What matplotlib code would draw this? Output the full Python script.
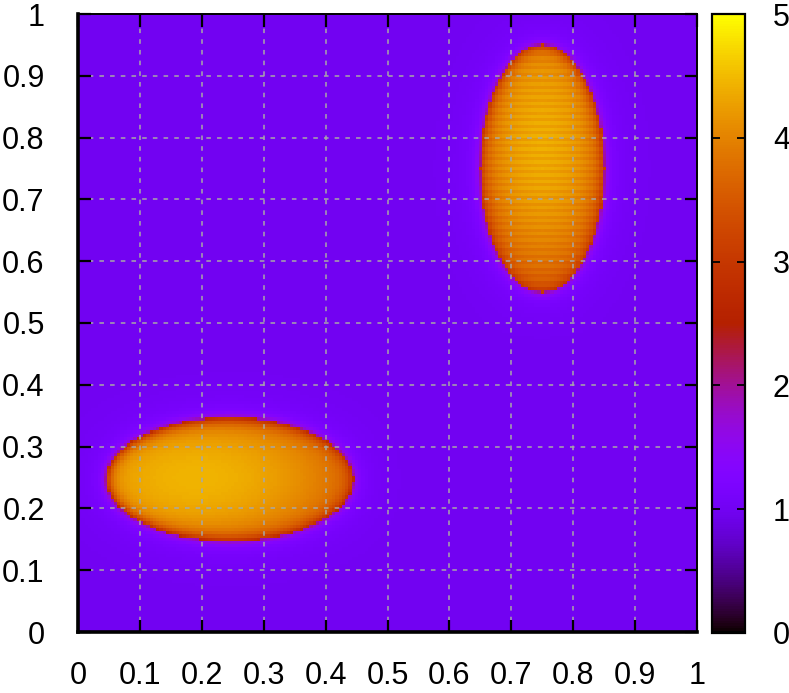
import numpy as np
import matplotlib
matplotlib.use('Agg')
import matplotlib.pyplot as plt

plt.rcParams['font.family'] = ['Liberation Sans', 'DejaVu Sans']

# ---- data ----
tick_values = [0, 0.1, 0.2, 0.3, 0.4, 0.5, 0.6, 0.7, 0.8, 0.9, 1]
tick_labels = ['0', '0.1', '0.2', '0.3', '0.4', '0.5', '0.6', '0.7', '0.8', '0.9', '1']
cbar_ticks = [0, 1, 2, 3, 4, 5]
cbar_labels = ['0', '1', '2', '3', '4', '5']
value_min, value_max = 0, 5
n_cells = 190

background_level = 1.0
halo_level = 0.3
fringe_level = 0.7
ellipse_cx = [0.245, 0.75]
ellipse_cy = [0.247, 0.75]
ellipse_a = [0.2, 0.1]
ellipse_b = [0.1, 0.2]
ellipse_peak = [4.45, 4.35]
ellipse_peak_x = [0.19, 0.75]
ellipse_peak_y = [0.25, 0.79]
ellipse_edge = [3.95, 3.75]
rim_level = [2.75, 3.0]
stripe_amp = [0.0, 0.07]

# ---- field ----
c = (np.arange(n_cells) + 0.5) / n_cells
X, Y = np.meshgrid(c, c)
rows = np.arange(n_cells)[:, None] * np.ones((1, n_cells))
Z = np.full_like(X, background_level)
for cx, cy, a, b, pk, px, py, ed, rl, sa in zip(ellipse_cx, ellipse_cy, ellipse_a, ellipse_b,
                                             ellipse_peak, ellipse_peak_x, ellipse_peak_y,
                                             ellipse_edge, rim_level, stripe_amp):
    r = np.sqrt(((X - cx) / a) ** 2 + ((Y - cy) / b) ** 2)
    gx = (X - cx) / (a ** 2 * np.maximum(r, 1e-6))
    gy = (Y - cy) / (b ** 2 * np.maximum(r, 1e-6))
    d = (r - 1) / np.maximum(np.hypot(gx, gy), 1e-6)
    outside = d > 0
    dpos = np.clip(d, 0, None)
    Z = Z + np.where(outside, halo_level * np.exp(-dpos / 0.025)
                     + fringe_level * np.exp(-dpos / 0.005), 0)
    rp = np.clip(np.sqrt(((X - px) / a) ** 2 + ((Y - py) / b) ** 2), 0, 1.2)
    interior = pk - (pk - ed) * rp ** 2
    interior = interior - (interior - rl) * np.exp(np.clip(d, None, 0) / 0.009)
    interior = interior + sa * np.where(rows % 2 == 0, 1, -1)
    Z = np.where(outside, Z, interior)

# ---- figure ----
fig = plt.figure(figsize=(7.89, 6.93), dpi=100)
ax = fig.add_axes([78 / 789, 61 / 693, 619 / 789, 618 / 693])
cax = fig.add_axes([712 / 789, 60 / 693, 33 / 789, 619 / 693])

im = ax.imshow(Z, origin='lower', extent=[0, 1, 0, 1], aspect='auto',
               cmap='gnuplot', vmin=value_min, vmax=value_max, interpolation='nearest')
ax.set_xlim(0, 1)
ax.set_ylim(0, 1)
ax.set_xticks(tick_values)
ax.set_xticklabels(tick_labels)
ax.set_yticks(tick_values)
ax.set_yticklabels(tick_labels)
ax.grid(True, color='#a8a8a8', linestyle=(0, (3, 4)), linewidth=1.1)
ax.tick_params(axis='both', direction='in', length=9, width=1.6, top=True, right=True,
               labelsize=22, colors='black')
ax.tick_params(axis='x', pad=21)
ax.tick_params(axis='y', pad=24)
for s in ax.spines.values():
    s.set_linewidth(1.4)
    s.set_color('black')
ax.spines['left'].set_linewidth(2.6)
ax.spines['bottom'].set_linewidth(2.6)

cb = fig.colorbar(im, cax=cax, ticks=cbar_ticks)
cb.set_ticklabels(cbar_labels)
cb.outline.set_linewidth(1.6)
cax.tick_params(direction='in', length=6, width=1.3, left=True, right=True,
                labelsize=22, pad=20)

fig.savefig('out.png', dpi=100)
